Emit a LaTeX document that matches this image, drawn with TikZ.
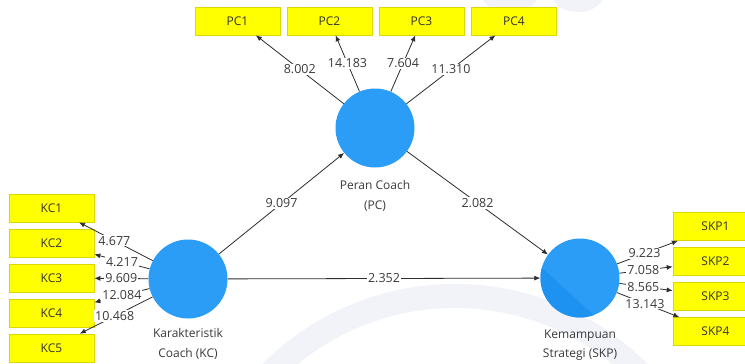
\documentclass[tikz,border=0pt]{standalone}
\usepackage{fontspec}
\setmainfont{Open Sans}
\usetikzlibrary{arrows.meta}
\definecolor{circblue}{RGB}{43,157,247}
\definecolor{circdark}{RGB}{30,146,240}
\definecolor{boxyellow}{RGB}{255,255,0}
\definecolor{boxedge}{RGB}{222,214,0}
\definecolor{txtgray}{RGB}{58,58,58}
\definecolor{arrgray}{RGB}{45,45,45}
\definecolor{wmark}{RGB}{241,243,249}
\tikzset{
  x=1pt, y=-1pt,
  latent/.style={circle, fill=circblue, minimum size=79pt, inner sep=0pt},
  indic/.style={rectangle, fill=boxyellow, draw=boxedge, line width=0.6pt,
    minimum width=85pt, minimum height=28pt, inner sep=0pt,
    font=\fontsize{12}{14}\selectfont, text=black!80},
  conn/.style={draw=arrgray, line width=0.8pt, -{Latex[length=6pt,width=5pt]}},
  wlab/.style={fill=white, inner sep=1pt, text=txtgray, font=\fontsize{12.5}{14}\selectfont},
  clab/.style={align=center, text=txtgray, font=\fontsize{12}{19.5}\selectfont, inner sep=0pt}
}
\begin{document}
\begin{tikzpicture}
\clip (0,0) rectangle (745,364);
\fill[white] (0,0) rectangle (745,364);
% faint watermark
\fill[wmark, even odd rule] (455,556) circle (272) (455,556) circle (248);
\fill[wmark] (510,-6) ellipse (28 and 19);
\fill[wmark] (578,-6) ellipse (26 and 18);

% latent variables
\node[latent] (PC) at (375,128) {};
\node[latent] (KC) at (188,279) {};
\node[latent] (SKP) at (580,278) {};
\begin{scope}
  \clip (580,278) circle (39.5);
  \fill[circdark] (530,257) -- (610,330) -- (520,360) -- cycle;
\end{scope}

\node[clab] (PClab) at (375,196) {Peran Coach\\(PC)};
\node[clab] (KClab) at (188,344) {Karakteristik\\Coach (KC)};
\node[clab] (SKPlab) at (580,345) {Kemampuan\\Strategi (SKP)};

% indicators
\node[indic] (PC1) at (237.5,21) {PC1};
\node[indic] (PC2) at (329.5,21) {PC2};
\node[indic] (PC3) at (421.5,21) {PC3};
\node[indic] (PC4) at (514,21) {PC4};

\node[indic] (KC1) at (51.5,208) {KC1};
\node[indic] (KC2) at (51.5,243) {KC2};
\node[indic] (KC3) at (51.5,278) {KC3};
\node[indic] (KC4) at (51.5,313) {KC4};
\node[indic] (KC5) at (51.5,348) {KC5};

\node[indic] (SKP1) at (715.5,226.5) {SKP1};
\node[indic] (SKP2) at (715.5,261.5) {SKP2};
\node[indic] (SKP3) at (715.5,296.5) {SKP3};
\node[indic] (SKP4) at (715.5,331.5) {SKP4};

% outer model arrows
\draw[conn] (PC) -- node[wlab, pos=0.5] {8.002} (PC1);
\draw[conn] (PC) -- node[wlab, pos=0.5] {14.183} (PC2);
\draw[conn] (PC) -- node[wlab, pos=0.5] {7.604} (PC3);
\draw[conn] (PC) -- node[wlab, pos=0.5] {11.310} (PC4);

\draw[conn] (KC) -- (KC1);
\draw[conn] (KC) -- (KC2);
\draw[conn] (KC) -- (KC3);
\draw[conn] (KC) -- (KC4);
\draw[conn] (KC) -- (KC5);
\path (KC) -- node[wlab, pos=0.52] {4.677} (KC1);
\path (KC) -- node[wlab, pos=0.5] {4.217} (KC2);
\path (KC) -- node[wlab, pos=0.5] {9.609} (KC3);
\path (KC) -- node[wlab, pos=0.5] {12.084} (KC4);
\path (KC) -- node[wlab, pos=0.52] {10.468} (KC5);

\draw[conn] (SKP) -- (SKP1);
\draw[conn] (SKP) -- (SKP2);
\draw[conn] (SKP) -- (SKP3);
\draw[conn] (SKP) -- (SKP4);
\path (SKP) -- node[wlab, pos=0.45] {9.223} (SKP1);
\path (SKP) -- node[wlab, pos=0.45] {7.058} (SKP2);
\path (SKP) -- node[wlab, pos=0.45] {8.565} (SKP3);
\path (SKP) -- node[wlab, pos=0.45] {13.143} (SKP4);

% inner model arrows
\draw[conn] (KC) -- node[wlab] {9.097} (PC);
\draw[conn] (KC) -- node[wlab] {2.352} (SKP);
\draw[conn] (PC) -- node[wlab] {2.082} (SKP);
\end{tikzpicture}
\end{document}
